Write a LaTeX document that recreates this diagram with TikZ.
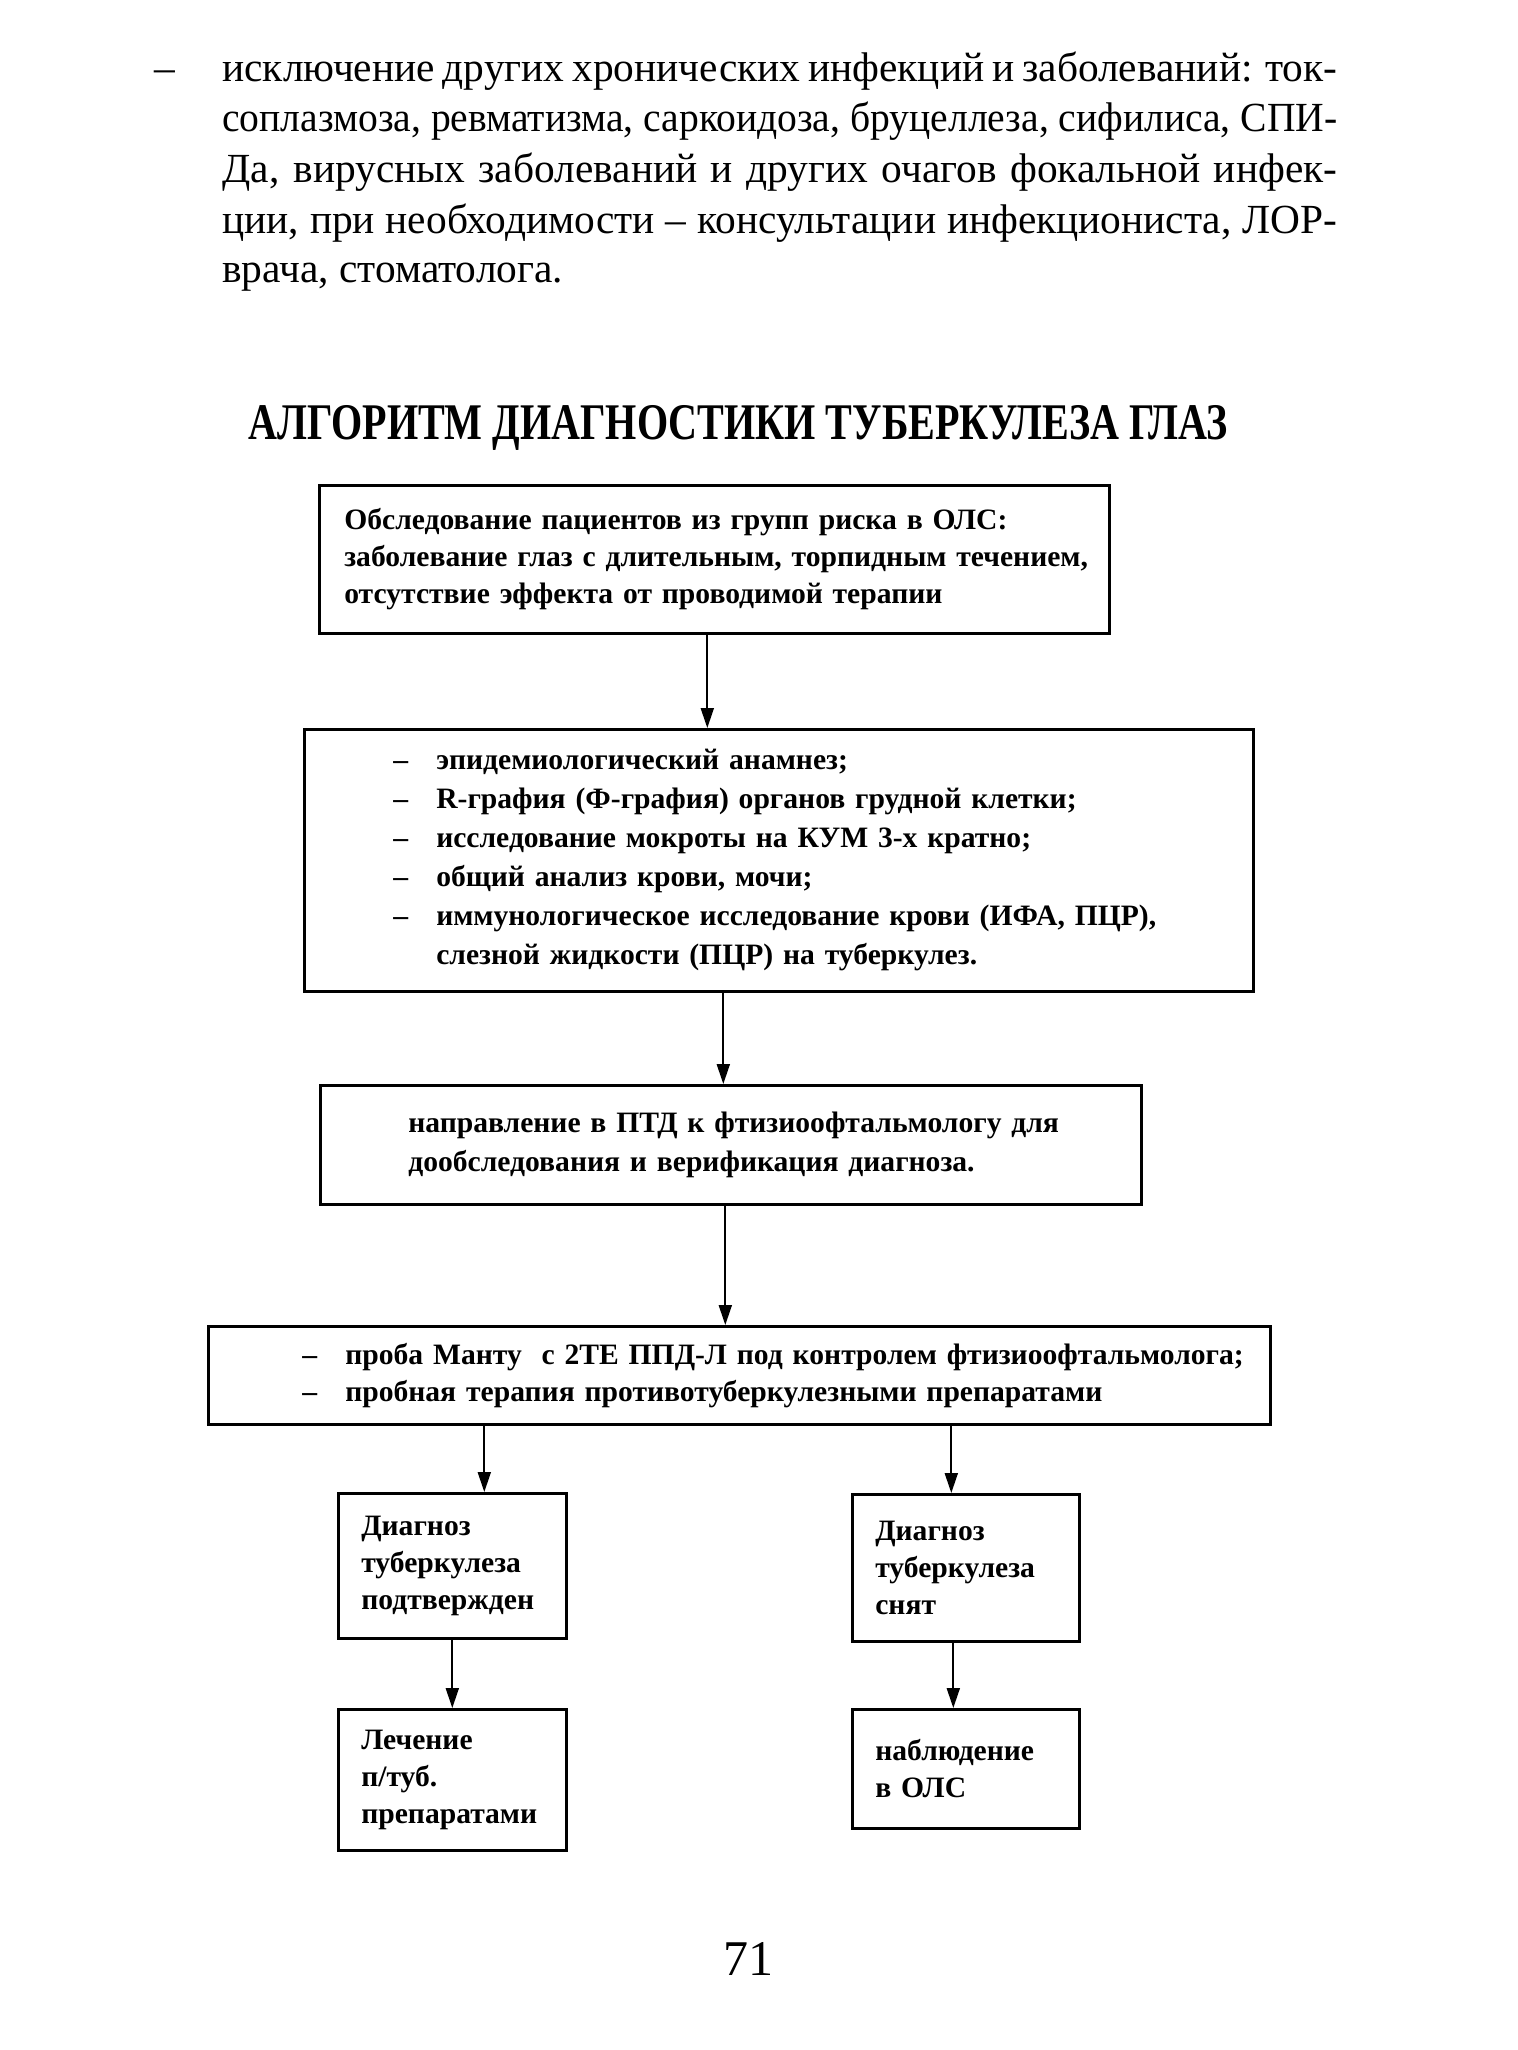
\documentclass[tikz,border=0pt]{standalone}
\usepackage{fontspec}
\usepackage{graphicx}
\setmainfont{Liberation Serif}
\newfontfamily\titlefont[FakeStretch=0.78]{Liberation Serif}
\usetikzlibrary{arrows.meta}
\tikzset{
  box/.style={draw, line width=1.3pt, anchor=north west, inner xsep=0pt, inner ysep=0pt, align=left,
    font=\fontsize{14.8}{18.5}\selectfont\bfseries},
  arr/.style={line width=1pt, -{Triangle[width=6.5pt,length=10pt]}},
  para/.style={anchor=base west, inner sep=0pt, font=\fontsize{20.7}{25}\selectfont},
}
\newcommand{\itm}[1]{\makebox[21.5pt][l]{–}#1}
\newcommand{\itmc}[1]{\makebox[21.5pt][l]{}#1}
\begin{document}
\begin{tikzpicture}[x=0.5pt,y=-0.5pt]
\useasboundingbox[fill=white] (0,0) rectangle (1517,2050);
% top paragraph
\node[para] (dash) at (154,82) {–};
\node[para] (p1) at (222,82) {\makebox[557.5pt][s]{исключение других хронических инфекций и заболеваний: ток-}};
\node[para] (p2) at (222,132) {\resizebox{557.5pt}{\height}{соплазмоза, ревматизма, саркоидоза, бруцеллеза, сифилиса, СПИ-}};
\node[para] (p3) at (222,183) {\makebox[557.5pt][s]{Да, вирусных заболеваний и других очагов фокальной инфек-}};
\node[para] (p4) at (222,233) {\makebox[557.5pt][s]{ции, при необходимости – консультации инфекциониста, ЛОР-}};
\node[para] (p5) at (222,282) {врача, стоматолога.};
% title
\node[anchor=base west, inner sep=0pt, font=\titlefont\fontsize{25.7}{30}\selectfont\bfseries] (title) at (248,439) {АЛГОРИТМ ДИАГНОСТИКИ ТУБЕРКУЛЕЗА ГЛАЗ};
% boxes
\node[box, minimum width=395pt, minimum height=74pt, text width=370pt] (b1) at (318,484)
 {\mbox{Обследование пациентов из групп риска в ОЛС:}\\
  \mbox{заболевание глаз с длительным, торпидным течением,}\\
  \mbox{отсутствие эффекта от проводимой терапии}};
\node[box, minimum width=474.5pt, minimum height=131pt, text width=385.5pt] (b2) at (303,728)
 {\itm{эпидемиологический анамнез;}\\[1pt]
  \itm{R-графия (Ф-графия) органов грудной клетки;}\\[1pt]
  \itm{исследование мокроты на КУМ 3-х кратно;}\\[1pt]
  \itm{общий анализ крови, мочи;}\\[1pt]
  \itm{\mbox{иммунологическое исследование крови (ИФА, ПЦР),}}\\[1pt]
  \itmc{слезной жидкости (ПЦР) на туберкулез.}};
\node[box, minimum width=410.5pt, minimum height=59.5pt, text width=322.5pt] (b3) at (319,1084)
 {\mbox{направление в ПТД к фтизиоофтальмологу для}\\[1pt]
  \mbox{дообследования и верификация диагноза.}\\[8pt]};
\node[box, minimum width=531pt, minimum height=49pt, text width=437pt] (b4) at (207,1325)
 {\itm{\mbox{проба Манту\ \ с 2ТЕ ППД-Л под контролем фтизиоофтальмолога;}}\\
  \itm{\mbox{пробная терапия противотуберкулезными препаратами}}};
\node[box, minimum width=114pt, minimum height=72.5pt, text width=91pt] (b5) at (337,1492)
 {Диагноз\\ туберкулеза\\ \mbox{подтвержден}};
\node[box, minimum width=113.5pt, minimum height=73.5pt, text width=90.5pt] (b6) at (851,1493)
 {Диагноз\\ туберкулеза\\ снят};
\node[box, minimum width=114pt, minimum height=70.5pt, text width=91pt] (b7) at (337,1708)
 {Лечение\\ п/туб.\\ препаратами};
\node[box, minimum width=113.5pt, minimum height=59.5pt, text width=90.5pt] (b8) at (851,1708)
 {наблюдение\\ в ОЛС\\[6pt]};
% arrows
\draw[arr] ([xshift=-3.5pt]b1.south) -- ([xshift=-3.5pt]b1.south |- b2.north);
\draw[arr] ([xshift=-3.75pt]b3.north |- b2.south) -- ([xshift=-3.75pt]b3.north);
\draw[arr] ([xshift=-2.75pt]b3.south) -- ([xshift=-2.75pt]b3.south |- b4.north);
\draw[arr] ([xshift=16pt]b5.north |- b4.south) -- ([xshift=16pt]b5.north);
\draw[arr] ([xshift=-7.25pt]b6.north |- b4.south) -- ([xshift=-7.25pt]b6.north);
\draw[arr] (b5.south) -- (b5.south |- b7.north);
\draw[arr] ([xshift=-6.25pt]b6.south) -- ([xshift=-6.25pt]b6.south |- b8.north);
% page number
\node[anchor=base, inner sep=0pt, font=\fontsize{25}{30}\selectfont] (pg) at (748,1975) {71};
\end{tikzpicture}
\end{document}
